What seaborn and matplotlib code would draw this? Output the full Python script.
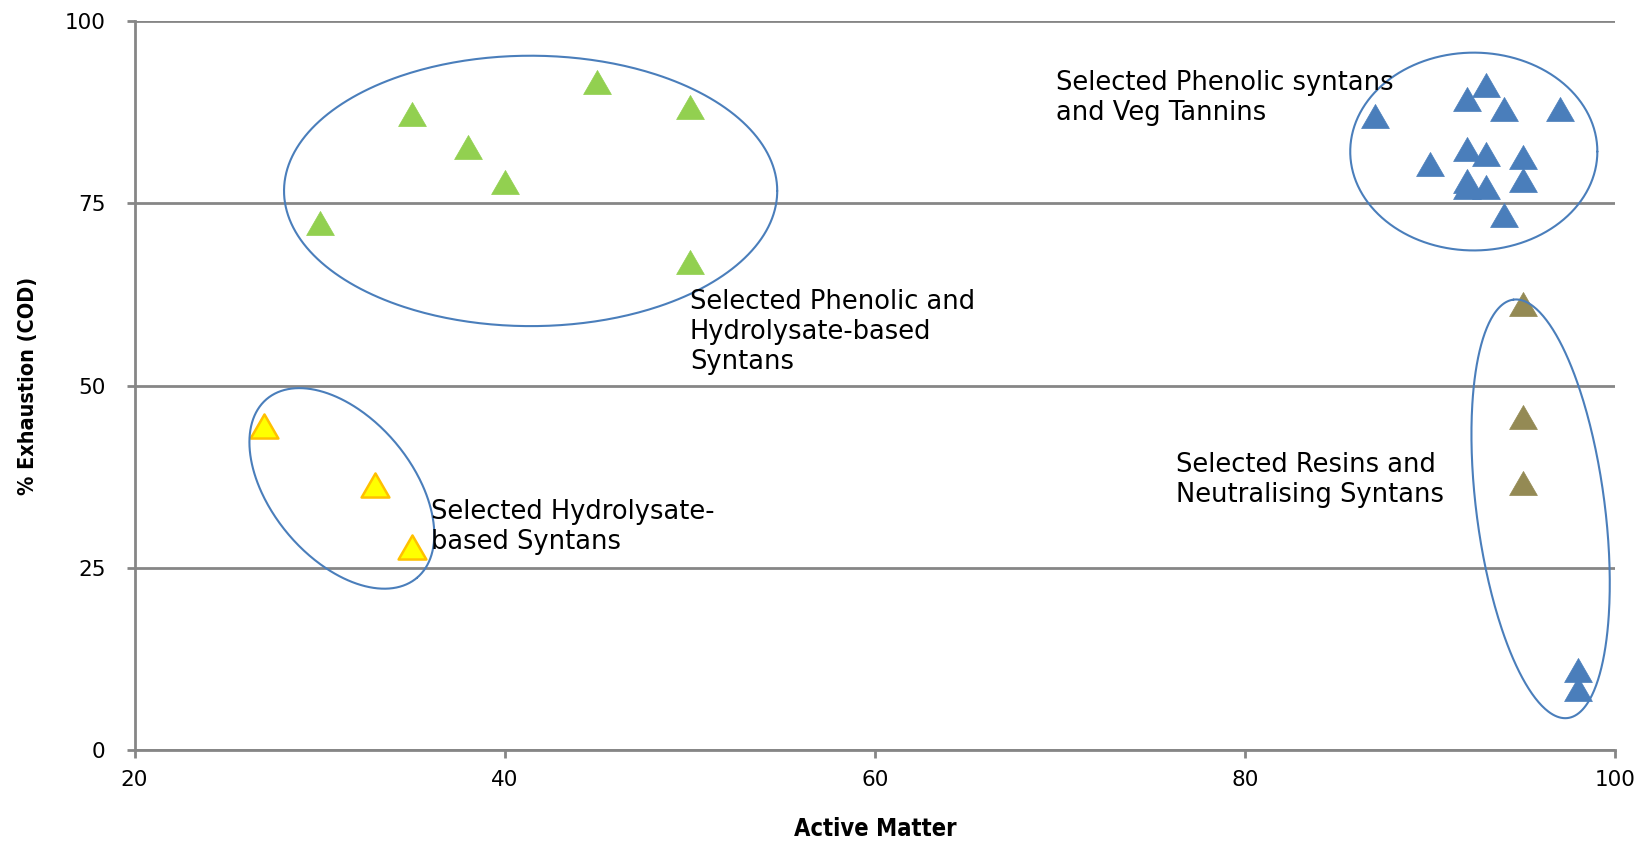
import numpy as np
import pandas as pd
import matplotlib
matplotlib.use("Agg")
import matplotlib.pyplot as plt
import seaborn as sns
from matplotlib.path import Path

# ---- data ----
green_x = [30, 35, 38, 40, 45, 50, 50]
green_y = [72.3, 87.2, 82.7, 77.9, 91.6, 88.2, 67.0]

yellow_x = [27, 33, 35]
yellow_y = [44.4, 36.4, 27.8]

olive_x = [95, 95, 95]
olive_y = [61.2, 45.7, 36.7]

blue_x = [87, 92, 93, 94, 97, 90, 92, 93, 95, 92, 92, 93, 95, 94, 98, 98]
blue_y = [87.0, 89.3, 91.2, 87.9, 88.0, 80.4, 82.4, 81.7, 81.4, 78.1, 77.2, 77.3, 78.2, 73.4, 11.0, 8.4]

x_ticks = [20, 40, 60, 80, 100]
y_ticks = [0, 25, 50, 75, 100]

labels = ["Selected Phenolic syntans\nand Veg Tannins",
          "Selected Phenolic and\nHydrolysate-based\nSyntans",
          "Selected Hydrolysate-\nbased Syntans",
          "Selected Resins and\nNeutralising Syntans"]
label_x = [69.8, 50.0, 36.0, 76.25]
label_y = [89.5, 57.4, 30.6, 37.1]

# ellipses: centre (data), semi-axes (pixel-ish units), angle (deg)
ell_cx = [92.36, 41.4, 31.2, 95.97]
ell_cy = [82.1, 76.7, 35.9, 33.1]
ell_a = [117.5, 234.5, 111, 200.5]
ell_b = [94, 128.5, 67, 61]
ell_ang = [0, 0, -50, 97.4]

# ---- style ----
sns.set_theme(style="white")
plt.rcParams['font.family'] = ['DejaVu Sans']

fig = plt.figure(figsize=(16.49, 8.41), dpi=100)
ax = fig.add_axes([0.0816, 0.108, 0.9795 - 0.0816, 0.975 - 0.108])

tri = Path([(-1, -0.866), (1, -0.866), (0, 0.866), (-1, -0.866)],
           [Path.MOVETO, Path.LINETO, Path.LINETO, Path.CLOSEPOLY])
S = 400

df_g = pd.DataFrame({"x": green_x, "y": green_y})
df_yel = pd.DataFrame({"x": yellow_x, "y": yellow_y})
df_o = pd.DataFrame({"x": olive_x, "y": olive_y})
df_b = pd.DataFrame({"x": blue_x, "y": blue_y})

sns.scatterplot(data=df_g, x="x", y="y", ax=ax, marker=tri, s=S, color="#92D050",
                edgecolor="#92D050", linewidth=0.5, zorder=3)
sns.scatterplot(data=df_yel, x="x", y="y", ax=ax, marker=tri, s=S, color="#FFFF00",
                edgecolor="#FFC000", linewidth=1.8, zorder=3)
sns.scatterplot(data=df_o, x="x", y="y", ax=ax, marker=tri, s=S, color="#948A54",
                edgecolor="#948A54", linewidth=0.5, zorder=3)
sns.scatterplot(data=df_b, x="x", y="y", ax=ax, marker=tri, s=S, color="#4A7EBB",
                edgecolor="#4A7EBB", linewidth=0.5, zorder=3)

ax.set_xlim(20, 100)
ax.set_ylim(0, 100)

# pixel-ish scale factors for ellipses
sx, sy = 17.6, 6.93
t = np.linspace(0, 2 * np.pi, 400)
for cx, cy, a, b, ang in zip(ell_cx, ell_cy, ell_a, ell_b, ell_ang):
    th = np.deg2rad(ang)
    dx = a * np.cos(t) * np.cos(th) - b * np.sin(t) * np.sin(th)
    dy = a * np.cos(t) * np.sin(th) + b * np.sin(t) * np.cos(th)
    ax.plot(cx + dx / sx, cy + dy / sy, color="#4A7EBB", lw=1.5, zorder=4, clip_on=False)

for txt, lx, ly in zip(labels, label_x, label_y):
    ax.text(lx, ly, txt, fontsize=18.5, ha="left", va="center", color="black",
            linespacing=1.2, zorder=5)

ax.set_xticks(x_ticks)
ax.set_yticks(y_ticks)
ax.tick_params(axis="both", labelsize=15.5, labelcolor="#000000", length=6, width=2,
               direction="out", color="#868686")
ax.tick_params(axis="x", bottom=True, pad=8)
ax.tick_params(axis="y", left=True, pad=15)

ax.grid(axis="y", color="#868686", lw=2)
ax.grid(axis="x", visible=False)
ax.set_axisbelow(True)
for s in ["top", "right"]:
    ax.spines[s].set_visible(False)
for s in ["left", "bottom"]:
    ax.spines[s].set_color("#868686")
    ax.spines[s].set_linewidth(2)

ax.set_xlabel("Active Matter", fontsize=17, fontweight="bold", color="black",
              fontstretch="condensed", labelpad=20)
ax.set_ylabel("% Exhaustion (COD)", fontsize=15.5, fontweight="bold", color="black",
              fontstretch="condensed", labelpad=19)

fig.savefig("out.png", dpi=100)
